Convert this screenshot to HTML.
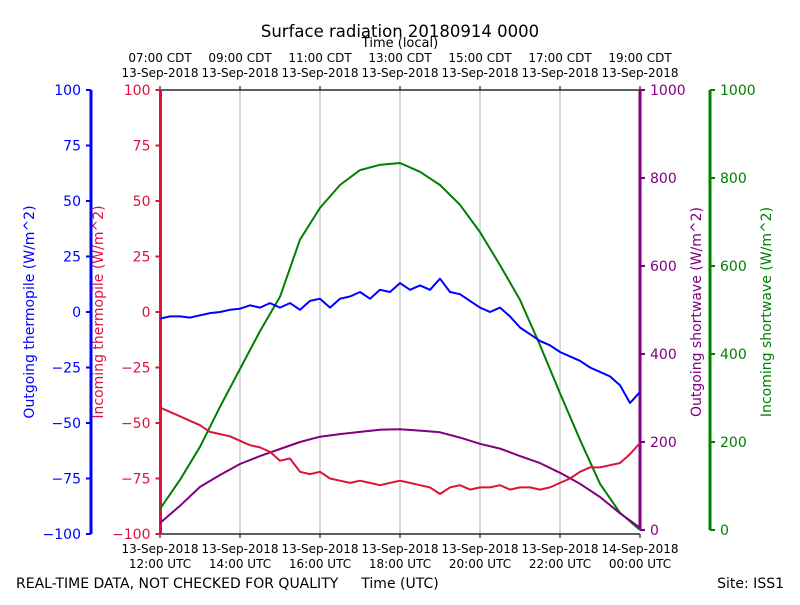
<!DOCTYPE html>
<html><head><meta charset="utf-8"><style>
body{margin:0;background:#fff;}
svg text{font-family:"DejaVu Sans","Liberation Sans",sans-serif;}
</style></head><body>
<svg id="chart" width="800" height="600" xmlns="http://www.w3.org/2000/svg">
<rect width="800" height="600" fill="#fff"/>
<g id="g"></g>
</svg>
<script>
// time in hours after 12:00 UTC, 0.25 h step
const blueVals=[-3,-2,-2,-2.5,-1.5,-0.5,0,1,1.5,3,2,4,2,4,1,5,6,2,6,7,9,6,10,9,13,10,12,10,15,9,8,5,2,0,2,-2,-7,-10,-13,-15,-18,-20,-22,-25,-27,-29,-33,-41,-36];
const redVals=[-43,-45,-47,-49,-51,-54,-55,-56,-58,-60,-61,-63,-67,-66,-72,-73,-72,-75,-76,-77,-76,-77,-78,-77,-76,-77,-78,-79,-82,-79,-78,-80,-79,-79,-78,-80,-79,-79,-80,-79,-77,-75,-72,-70,-70,-69,-68,-64,-59];
// 0.5 h step
const purpleVals=[16,55,98,125,150,168,184,200,212,218,223,228,229,226,222,210,196,185,168,152,130,105,75,38,5];
const greenVals=[48,114,189,280,366,452,530,660,732,784,818,830,834,814,784,739,677,602,523,420,311,205,105,39,0];
const leftTicks=[100,75,50,25,0,-25,-50,-75,-100];
const rightTicks=[0,200,400,600,800,1000];
const utcLabels=[["13-Sep-2018","12:00 UTC"],["13-Sep-2018","14:00 UTC"],["13-Sep-2018","16:00 UTC"],["13-Sep-2018","18:00 UTC"],["13-Sep-2018","20:00 UTC"],["13-Sep-2018","22:00 UTC"],["14-Sep-2018","00:00 UTC"]];
const localLabels=[["07:00 CDT","13-Sep-2018"],["09:00 CDT","13-Sep-2018"],["11:00 CDT","13-Sep-2018"],["13:00 CDT","13-Sep-2018"],["15:00 CDT","13-Sep-2018"],["17:00 CDT","13-Sep-2018"],["19:00 CDT","13-Sep-2018"]];

const X0=160,X1=640,Y0=90,Y1=534,RY1=530;
const xs=h=>X0+h/12*(X1-X0);
const yL=v=>Y1-(v+100)/200*(Y1-Y0);
const yR=v=>RY1-v/1000*(RY1-Y0);
const g=document.getElementById('g');
const NS='http://www.w3.org/2000/svg';
function el(t,a,txt){const e=document.createElementNS(NS,t);for(const k in a)e.setAttribute(k,a[k]);if(txt!==undefined)e.textContent=txt;g.appendChild(e);return e;}

for(let i=1;i<6;i++){const l=el('line',{x1:xs(i*2),x2:xs(i*2),y1:Y0,y2:Y1,stroke:'#b0b0b0','stroke-width':1});

}
let f=el('line',{x1:X0,x2:X1,y1:Y0,y2:Y0,stroke:'#000','stroke-width':1.2});


f=el('line',{x1:X0,x2:X1,y1:Y1,y2:Y1,stroke:'#000','stroke-width':1.2});


for(let i=0;i<7;i++){const x=xs(i*2);
el('line',{x1:x,x2:x,y1:Y1,y2:Y1+4,stroke:'#000'});
el('line',{x1:x,x2:x,y1:Y0,y2:Y0-4,stroke:'#000'});
let t=el('text',{x:x,y:553,'font-size':12,'text-anchor':'middle'},utcLabels[i][0]);


t=el('text',{x:x,y:568,'font-size':12,'text-anchor':'middle'},utcLabels[i][1]);


t=el('text',{x:x,y:62,'font-size':12,'text-anchor':'middle'},localLabels[i][0]);


t=el('text',{x:x,y:77,'font-size':12,'text-anchor':'middle'},localLabels[i][1]);

}

function yaxis(x,color,ticks,yf,side,name,title,tx){
 const s=el('line',{x1:x,x2:x,y1:yf(ticks[0]),y2:yf(ticks[ticks.length-1]),stroke:color,'stroke-width':3});
 
 
 ticks.forEach(v=>{const y=yf(v);
  el('line',{x1:x,x2:x+side*5,y1:y,y2:y,stroke:color,'stroke-width':2});
  const t=el('text',{x:x+side*10,y:y+5,'font-size':14,fill:color,'text-anchor':side<0?'end':'start'},String(v).replace('-','\u2212'));
  
  });
 const t=el('text',{x:tx,y:312,'font-size':14,fill:color,'text-anchor':'middle',transform:`rotate(-90 ${tx} 312)`},title);
 
 
}
yaxis(91,'#0000ff',leftTicks,yL,-1,'outgoing-thermopile','Outgoing thermopile (W/m^2)',34);
yaxis(160.5,'#dc143c',leftTicks,yL,-1,'incoming-thermopile','Incoming thermopile (W/m^2)',103);
yaxis(640,'#800080',rightTicks,yR,1,'outgoing-shortwave','Outgoing shortwave (W/m^2)',701);
yaxis(710,'#008000',rightTicks,yR,1,'incoming-shortwave','Incoming shortwave (W/m^2)',771);

function series(vals,step,yf,color,name){
 const d=vals.map((v,i)=>(i?'L':'M')+xs(i*step).toFixed(1)+','+yf(v).toFixed(1)).join('');
 const p=el('path',{d:d,fill:'none',stroke:color,'stroke-width':2,'stroke-linejoin':'round'});
 
 
}
series(greenVals,0.5,yR,'#008000','incoming-shortwave-line');
series(purpleVals,0.5,yR,'#800080','outgoing-shortwave-line');
series(redVals,0.25,yL,'#dc143c','incoming-thermopile-line');
series(blueVals,0.25,yL,'#0000ff','outgoing-thermopile-line');

let t=el('text',{x:400,y:37,'font-size':16.5,'text-anchor':'middle'},'Surface radiation 20180914 0000');


t=el('text',{x:400,y:47,'font-size':13,'text-anchor':'middle'},'Time (local)');


t=el('text',{x:400,y:588,'font-size':14,'text-anchor':'middle'},'Time (UTC)');


t=el('text',{x:16,y:588,'font-size':14},'REAL-TIME DATA, NOT CHECKED FOR QUALITY');


t=el('text',{x:784,y:588,'font-size':14,'text-anchor':'end'},'Site: ISS1');


</script>
</body></html>
